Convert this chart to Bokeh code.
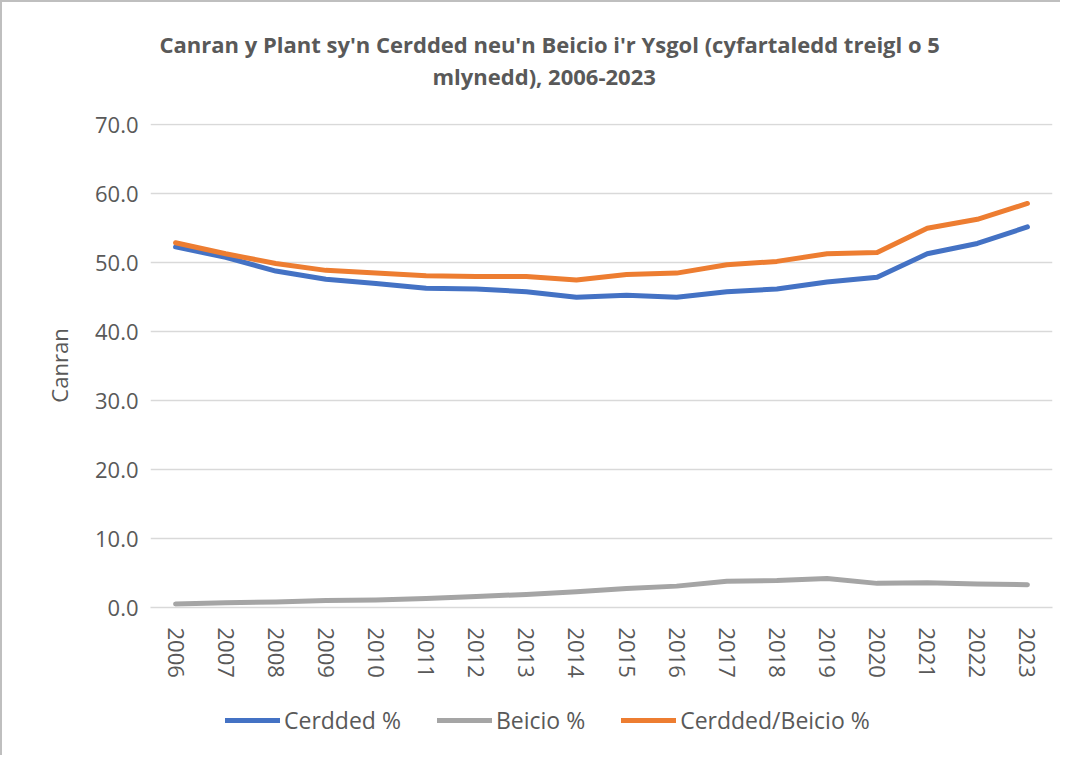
from bokeh.plotting import figure
from bokeh.layouts import column
from bokeh.models import (FactorRange, Range1d, Title, Legend, LegendItem,
                          NumeralTickFormatter, FixedTicker)
from bokeh.embed import file_html
from bokeh.resources import INLINE

# ---- data ----
years = ["2006", "2007", "2008", "2009", "2010", "2011", "2012", "2013", "2014",
         "2015", "2016", "2017", "2018", "2019", "2020", "2021", "2022", "2023"]
cerdded = [52.3, 50.8, 48.8, 47.6, 47.0, 46.3, 46.2, 45.8, 45.0,
           45.3, 45.0, 45.8, 46.2, 47.2, 47.9, 51.3, 52.8, 55.2]
beicio = [0.5, 0.7, 0.8, 1.0, 1.1, 1.3, 1.6, 1.9, 2.3,
          2.75, 3.1, 3.8, 3.9, 4.2, 3.5, 3.6, 3.4, 3.3]
cerdded_beicio = [52.9, 51.3, 49.9, 48.9, 48.5, 48.1, 48.0, 48.0, 47.5,
                  48.3, 48.5, 49.7, 50.2, 51.3, 51.5, 55.0, 56.3, 58.6]
y_ticks = [0, 10, 20, 30, 40, 50, 60, 70]
series_names = ["Cerdded %", "Beicio %", "Cerdded/Beicio %"]
title_lines = ["Canran y Plant sy'n Cerdded neu'n Beicio i'r Ysgol (cyfartaledd treigl o 5",
               "mlynedd), 2006-2023"]
y_label = "Canran"

FONT = "Open Sans"
TXT = "#595959"
COLORS = ["#4472C4", "#A5A5A5", "#ED7D31"]
SERIES = [cerdded, beicio, cerdded_beicio]

# ---------------- main chart ----------------
p = figure(width=1058, frame_height=484, output_backend="svg", toolbar_location=None,
           x_range=FactorRange(*years, range_padding=0), y_range=Range1d(0, 70.2),
           min_border_left=148, min_border_right=8, min_border_top=121,
           min_border_bottom=90, background_fill_color="white",
           border_fill_color="white")
p.outline_line_color = None

for vals, col in zip(SERIES, COLORS):
    p.line(years, vals, line_color=col, line_width=5,
           line_cap="round", line_join="round")

p.xgrid.grid_line_color = None
p.ygrid.grid_line_color = "#d9d9d9"
p.ygrid.grid_line_width = 1.3
p.yaxis.ticker = FixedTicker(ticks=y_ticks)
p.yaxis.formatter = NumeralTickFormatter(format="0.0")
p.yaxis.axis_line_color = None
p.yaxis.major_tick_line_color = None
p.yaxis.minor_tick_line_color = None
p.yaxis.major_tick_out = 0
p.yaxis.major_label_standoff = 12
p.yaxis.axis_label = y_label
p.yaxis.axis_label_standoff = 18
p.yaxis.axis_label_text_font = FONT
p.yaxis.axis_label_text_font_size = "22px"
p.yaxis.axis_label_text_font_style = "normal"
p.yaxis.axis_label_text_color = TXT

p.xaxis.axis_line_color = "#d9d9d9"
p.xaxis.axis_line_width = 1.3
p.xaxis.major_tick_line_color = None
p.xaxis.minor_tick_line_color = None
p.xaxis.major_tick_out = 0
p.xaxis.major_label_orientation = -1.5707963267948966
p.xaxis.major_label_standoff = 20

for ax in (p.xaxis[0], p.yaxis[0]):
    ax.major_label_text_font = FONT
    ax.major_label_text_font_size = "22px"
    ax.major_label_text_color = TXT

# title: spacer (closest to frame), then second line, then first line
p.add_layout(Title(text=" ", text_font_size="28px", standoff=0), "above")
p.add_layout(Title(text=title_lines[1], align="left", offset=282, standoff=0,
                   text_font=FONT, text_font_style="bold", text_font_size="22px",
                   text_color=TXT), "above")
p.add_layout(Title(text=title_lines[0], align="left", offset=9, standoff=0,
                   text_font=FONT, text_font_style="bold", text_font_size="22px",
                   text_color=TXT), "above")

# ---------------- legend strip ----------------
q = figure(width=1058, height=58, output_backend="svg", toolbar_location=None,
           x_range=FactorRange(*years), y_range=Range1d(0, 1),
           x_axis_type=None, y_axis_type=None, min_border=0,
           background_fill_color="white", border_fill_color="white")
q.outline_line_color = None
q.grid.visible = False
leg_renderers = []
for vals, col in zip(SERIES, COLORS):
    leg_renderers.append(q.line(years, vals, line_color=col, line_width=5,
                                line_cap="round", visible=False))
legend = Legend(items=[LegendItem(label=n, renderers=[r])
                       for n, r in zip(series_names, leg_renderers)],
                orientation="horizontal", location=(75, 19),
                glyph_width=55, glyph_height=20, label_height=20, label_standoff=4,
                spacing=36, padding=0, margin=0, border_line_color=None,
                background_fill_alpha=0,
                label_text_font=FONT, label_text_font_size="23px", label_text_color=TXT)
q.add_layout(legend, "center")

layout = column(p, q, spacing=0,
                styles={"border-left": "2px solid #bfbfbf", "border-top": "2px solid #bfbfbf"})

open("out.html", "w").write(file_html(layout, INLINE))
